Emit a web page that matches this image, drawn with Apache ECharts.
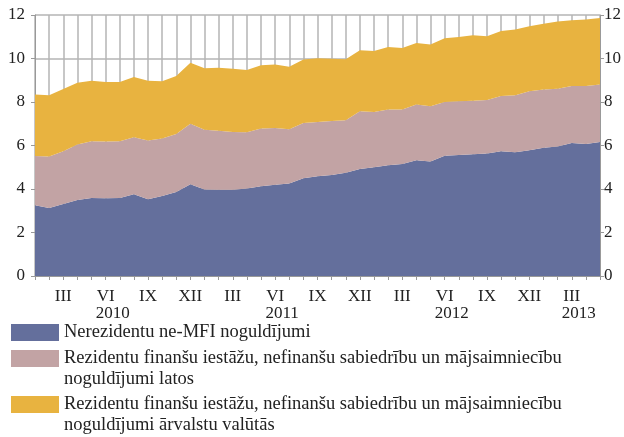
<!DOCTYPE html>
<html>
<head>
<meta charset="utf-8">
<script src="https://cdn.jsdelivr.net/npm/echarts@6/dist/echarts.min.js"></script>
<style>
html,body{margin:0;padding:0;background:#fff;}
#chart{width:624px;height:437px;}
</style>
</head>
<body>
<div id="chart"></div>
<script>
// month categories, Jan 2010 .. May 2013
var romans = ['I','II','III','IV','V','VI','VII','VIII','IX','X','XI','XII'];
var years = ['2010','2011','2012','2013'];
var yearPos = [5.5, 17.5, 29.5, 38.5];
var months = [];
for (var y = 0; y < years.length; y++) {
  for (var m = 0; m < 12; m++) {
    if (y == 3 && m > 4) break;
    months.push(romans[m] + ' ' + years[y]);
  }
}

var names = [
  'Nerezidentu ne-MFI noguldījumi',
  'Rezidentu finanšu iestāžu, nefinanšu sabiedrību un mājsaimniecību\nnoguldījumi latos',
  'Rezidentu finanšu iestāžu, nefinanšu sabiedrību un mājsaimniecību\nnoguldījumi ārvalstu valūtās'
];

var nonResident = [3.25,3.13,3.31,3.50,3.59,3.58,3.59,3.76,3.53,3.68,3.86,4.22,3.98,3.97,3.97,4.02,4.13,4.20,4.25,4.50,
  4.59,4.64,4.75,4.92,5.00,5.09,5.15,5.32,5.27,5.53,5.56,5.60,5.63,5.73,5.69,5.78,5.90,5.95,6.12,6.07,6.16];
var residentLats = [2.27,2.37,2.43,2.55,2.61,2.60,2.61,2.62,2.70,2.64,2.67,2.78,2.74,2.71,2.65,2.59,2.65,2.61,2.50,2.54,
  2.49,2.49,2.41,2.65,2.54,2.57,2.50,2.57,2.53,2.47,2.47,2.46,2.46,2.55,2.62,2.71,2.67,2.66,2.62,2.67,2.64];
var residentForeign = [2.83,2.81,2.86,2.84,2.78,2.74,2.72,2.77,2.75,2.63,2.67,2.81,2.83,2.90,2.91,2.86,2.91,2.91,2.87,2.91,
  2.93,2.86,2.80,2.81,2.81,2.87,2.83,2.82,2.84,2.93,2.96,3.01,2.93,2.99,3.02,2.99,3.03,3.09,3.02,3.05,3.06];

var colors = ['#646f9c', '#c2a3a4', '#e8b340'];
var font = 'Liberation Serif';
var gridColor = '#b5b5b5';
var axisColor = '#999999';

var chart = echarts.init(document.getElementById('chart'));

function area(name, data, color) {
  return {
    name: name,
    type: 'line',
    stack: 'total',
    data: data,
    showSymbol: false,
    symbol: 'none',
    lineStyle: {width: 0},
    areaStyle: {color: color, opacity: 1},
    itemStyle: {color: color}
  };
}

// one legend per item so the swatch lines up with the first text line
function legendFor(i, top, twoLines) {
  return {
    data: [names[i]],
    orient: 'vertical',
    left: 6,
    top: top,
    icon: 'rect',
    itemWidth: 48,
    itemHeight: 17,
    selectedMode: false,
    formatter: function (n) { return twoLines ? ' \n' + n : n; },
    textStyle: {fontFamily: font, fontSize: 18.5, color: '#222', lineHeight: 21}
  };
}

chart.setOption({
  animation: false,
  color: colors,
  grid: {left: 35, right: 22, top: 15, bottom: 161},
  legend: [
    legendFor(0, 317, false),
    legendFor(1, 322, true),
    legendFor(2, 368, true)
  ],
  xAxis: [{
    type: 'category',
    data: months,
    boundaryGap: false,
    axisLine: {lineStyle: {color: axisColor}},
    axisTick: {show: true, interval: 0, length: 4, lineStyle: {color: axisColor}},
    splitLine: {show: true, interval: 0, lineStyle: {color: gridColor, width: 1.5}},
    axisLabel: {
      interval: function (idx) { return idx % 3 == 2; },
      formatter: function (v) { return v.split(' ')[0]; },
      margin: 12, fontFamily: font, fontSize: 17, color: '#222'
    }
  }, {
    type: 'value',
    min: 0,
    max: 40,
    position: 'bottom',
    offset: 17,
    axisLine: {show: false},
    axisTick: {show: false},
    splitLine: {show: false},
    axisLabel: {
      customValues: yearPos,
      formatter: function (v) { return years[yearPos.indexOf(v)]; },
      margin: 12, fontFamily: font, fontSize: 17, color: '#222'
    }
  }],
  yAxis: [{
    type: 'value',
    min: 0, max: 12, interval: 2,
    position: 'left',
    axisLine: {show: true, lineStyle: {color: axisColor}},
    axisTick: {show: true, length: 4, lineStyle: {color: axisColor}},
    splitLine: {show: true, lineStyle: {color: gridColor, width: 1.5}},
    axisLabel: {margin: 10, fontFamily: font, fontSize: 17, color: '#222'}
  }, {
    type: 'value',
    min: 0, max: 12, interval: 2,
    position: 'right',
    axisLine: {show: true, lineStyle: {color: axisColor}},
    axisTick: {show: true, length: 4, lineStyle: {color: axisColor}},
    splitLine: {show: false},
    axisLabel: {margin: 4, fontFamily: font, fontSize: 17, color: '#222'}
  }],
  series: [
    area(names[0], nonResident, colors[0]),
    area(names[1], residentLats, colors[1]),
    area(names[2], residentForeign, colors[2])
  ]
});
</script>
</body>
</html>
